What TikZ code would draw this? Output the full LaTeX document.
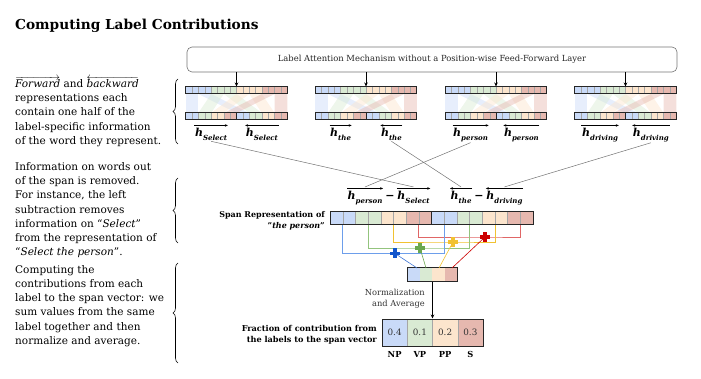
\documentclass[tikz,border=0pt]{standalone}
\usepackage{fontspec}
\setmainfont{DejaVu Serif}
\usetikzlibrary{arrows.meta,decorations.pathreplacing,calc}
\definecolor{cB}{HTML}{C9DAF8}
\definecolor{cG}{HTML}{D9EAD3}
\definecolor{cO}{HTML}{FCE5CD}
\definecolor{cR}{HTML}{E6B8AF}
\definecolor{lB}{HTML}{6D9EEB}
\definecolor{lG}{HTML}{93C47D}
\definecolor{lO}{HTML}{F1C232}
\definecolor{lR}{HTML}{E06666}
\definecolor{pB}{HTML}{1155CC}
\definecolor{pG}{HTML}{6AA84F}
\definecolor{pO}{HTML}{F1C232}
\definecolor{pR}{HTML}{CC0000}
\newcommand{\hvec}[1]{{\fontsize{11}{11}\selectfont\bfseries\itshape h}\raisebox{-3.5pt}{\fontsize{7}{7}\selectfont\bfseries\itshape #1}}
\begin{document}
\begin{tikzpicture}[x=1pt,y=-1pt,
  cellline/.style={draw=black!35, line width=0.3pt},
  rowborder/.style={draw=black!85, line width=1pt, inner sep=0, minimum height=7pt, minimum width=101.6pt},
  conn/.style={draw=black!55, line width=0.5pt},
  hlab/.style={inner sep=0.5pt},
  overarrow/.style={line width=0.5pt, -{Stealth[length=3pt,width=2.5pt]}},
  lefttext/.style={anchor=base west, align=left, inner sep=0, font=\fontsize{10.5}{14.3}\selectfont},
  bracesty/.style={decorate, decoration={brace, amplitude=5pt}, line width=0.6pt},
  plusnode/.style={minimum size=10pt, inner sep=0, path picture={
    \fill[#1] ([xshift=-5pt,yshift=-1.75pt]path picture bounding box.center) rectangle ([xshift=5pt,yshift=1.75pt]path picture bounding box.center);
    \fill[#1] ([xshift=-1.75pt,yshift=-5pt]path picture bounding box.center) rectangle ([xshift=1.75pt,yshift=5pt]path picture bounding box.center);}},
  smalltext/.style={font=\fontsize{8.3}{10.8}\selectfont, inner sep=0}
]
\useasboundingbox (0,0) rectangle (701,379);

% title
\node[anchor=base west, inner sep=0, font=\fontsize{13.7}{15}\selectfont\bfseries] (title) at (15,30) {Computing Label Contributions};

% left texts (base anchor = baseline of last line)
\node[lefttext] (t1) at (15,144.5) {$\overrightarrow{\mbox{\itshape Forward}}$ and $\overleftarrow{\mbox{\itshape backward}}$\\representations each\\contain one half of the\\label-specific information\\of the word they represent.};
\node[lefttext] (t2) at (15,256) {Information on words out\\of the span is removed.\\For instance, the left\\subtraction removes\\information on “\textit{Select}”\\from the representation of\\“\textit{Select the person}”.};
\node[lefttext] (t3) at (15,344.5) {Computing the\\contributions from each\\label to the span vector: we\\sum values from the same\\label together and then\\normalize and average.};

% braces
\draw[bracesty] (178,144) -- (178,79);
\draw[bracesty] (178,243) -- (178,178);
\draw[bracesty] (178,363) -- (178,263);

% top box
\node[draw=black!55, line width=0.6pt, rounded corners=5pt, minimum width=490pt, minimum height=25pt, inner sep=0, font=\fontsize{8.4}{10}\selectfont, text=black!85] (box) at (432,59.5) {Label Attention Mechanism without a Position-wise Feed-Forward Layer};

% word blocks
\foreach \i/\cx/\w in {1/236.5/Select,2/366/the,3/496/person,4/625.5/driving}{
  \pgfmathsetmacro{\L}{\cx-50.8}
  \foreach \g/\col in {0/cB,1/cG,2/cO,3/cR}{
    \pgfmathsetmacro{\a}{\L+\g*25.4}
    \pgfmathsetmacro{\b}{\a+25.4}
    \pgfmathsetmacro{\m}{\a+12.7}
    \pgfmathsetmacro{\fa}{\L+\g*12.7}
    \pgfmathsetmacro{\fb}{\fa+12.7}
    \pgfmathsetmacro{\ba}{\fa+50.8}
    \pgfmathsetmacro{\bb}{\ba+12.7}
    \fill[\col] (\a,87) rectangle (\b,94);
    \fill[\col] (\fa,113) rectangle (\fb,120);
    \fill[\col] (\ba,113) rectangle (\bb,120);
    \fill[\col, opacity=0.45] (\a,94) -- (\m,94) -- (\fb,113) -- (\fa,113) -- cycle;
    \fill[\col, opacity=0.45] (\m,94) -- (\b,94) -- (\bb,113) -- (\ba,113) -- cycle;
  }
  \foreach \k in {1,...,15}{
    \draw[cellline] (\L+\k*6.35,87) -- ++(0,7);
    \draw[cellline] (\L+\k*6.35,113) -- ++(0,7);
  }
  \node[rowborder] (top\i) at (\cx,90.5) {};
  \node[rowborder] (bot\i) at (\cx,116.5) {};
  \draw[line width=1pt, black!85] (bot\i.north) -- (bot\i.south);
  \draw[line width=0.6pt, -{Stealth[length=4pt,width=3.5pt]}] (top\i.north |- box.south) -- (top\i.north);
  \node[hlab, anchor=base] (f\i) at (\cx-25.4,137) {\hvec{\w}};
  \node[hlab, anchor=base] (b\i) at (\cx+25.4,137) {\hvec{\w}};
  \draw[overarrow] ([yshift=2.5pt]f\i.north west) -- ([yshift=2.5pt]f\i.north east);
  \draw[overarrow] ([yshift=2.5pt]b\i.north east) -- ([yshift=2.5pt]b\i.north west);
}

% subtraction terms
\node[hlab, anchor=base west] (sP) at (347,200) {\hvec{person}};
\node[anchor=base west, inner sep=0, font=\fontsize{11}{11}\selectfont\bfseries] (m1) at ([xshift=2pt]sP.base east) {−};
\node[hlab, anchor=base west] (sS) at ([xshift=2pt]m1.base east) {\hvec{Select}};
\node[hlab, anchor=base west] (sT) at (450,200) {\hvec{the}};
\node[anchor=base west, inner sep=0, font=\fontsize{11}{11}\selectfont\bfseries] (m2) at ([xshift=2pt]sT.base east) {−};
\node[hlab, anchor=base west] (sD) at ([xshift=2pt]m2.base east) {\hvec{driving}};
\draw[overarrow] ([yshift=2.5pt]sP.north west) -- ([yshift=2.5pt]sP.north east);
\draw[overarrow] ([yshift=2.5pt]sS.north west) -- ([yshift=2.5pt]sS.north east);
\draw[overarrow] ([yshift=2.5pt]sT.north east) -- ([yshift=2.5pt]sT.north west);
\draw[overarrow] ([yshift=2.5pt]sD.north east) -- ([yshift=2.5pt]sD.north west);

% connectors from word labels
\draw[conn] (f1.south) -- ([yshift=4pt]sS.north);
\draw[conn] (f3.south) -- ([yshift=4pt]sP.north);
\draw[conn] (b2.south) -- ([yshift=4pt]sT.north);
\draw[conn] (b4.south) -- ([yshift=4pt]sD.north);

% span representation
\foreach \h in {0,1}{
  \foreach \g/\col in {0/cB,1/cG,2/cO,3/cR}{
    \fill[\col] (330+\h*101.5+\g*25.375,212) rectangle ++(25.375,13);
  }
}
\foreach \k in {1,...,15}{
  \draw[cellline] (330+\k*12.6875,212) -- ++(0,13);
}
\node[draw=black!85, line width=1pt, minimum width=203pt, minimum height=13pt, inner sep=0] (span) at (431.5,218.5) {};
\draw[line width=1pt, black!85] (span.north) -- (span.south);
\node[anchor=east, align=right, inner sep=0, font=\fontsize{8}{11.5}\selectfont\bfseries] (spanlab) at (325,221) {Span Representation of\\"\textit{the person}"};

% coordinates on span
\coordinate (sB1) at (342.7,225); \coordinate (sB2) at (444.2,225);
\coordinate (sG1) at (368.1,225); \coordinate (sG2) at (469.6,225);
\coordinate (sO1) at (393.4,225); \coordinate (sO2) at (494.9,225);
\coordinate (sR1) at (418.8,225); \coordinate (sR2) at (520.3,225);

% plus positions
\coordinate (plR) at (485,237);
\coordinate (plO) at (453,242);
\coordinate (plG) at (420,248);
\coordinate (plB) at (395,253.5);

% aggregate box
\foreach \g/\col in {0/cB,1/cG,2/cO,3/cR}{
  \fill[\col] (407.3+\g*12.5,268) rectangle ++(12.5,13);
}
\node[draw=black!85, line width=1pt, minimum width=50pt, minimum height=13pt, inner sep=0] (agg) at (432.3,274.5) {};
\coordinate (aB) at (417,268); \coordinate (aG) at (426,268);
\coordinate (aO) at (439,268); \coordinate (aR) at (452,268);

\begin{scope}[line width=0.8pt]
\draw[lR] (sR1) |- (plR) -| (sR2);
\draw[lO] (sO1) |- (plO) -| (sO2);
\draw[lG] (sG1) |- (plG) -| (sG2);
\draw[lB] (sB1) |- (plB) -| (sB2);
\end{scope}
\begin{scope}[line width=0.6pt]
\draw[pB!80] (plB) -- (aB);
\draw[pG] (plG) -- (aG);
\draw[pO] (plO) -- (aO);
\draw[pR] (plR) -- (aR);
\end{scope}
\node[plusnode=pR] (plusR) at (plR) {};
\node[plusnode=pO] (plusO) at (plO) {};
\node[plusnode=pG] (plusG) at (plG) {};
\node[plusnode=pB] (plusB) at (plB) {};

% final box
\foreach \g/\col in {0/cB,1/cG,2/cO,3/cR}{
  \fill[\col] (382+\g*25.25,319) rectangle ++(25.25,27);
}
\foreach \k in {1,2,3}{
  \draw[cellline] (382+\k*25.25,319) -- ++(0,27);
}
\node[draw=black!85, line width=1pt, minimum width=101pt, minimum height=27pt, inner sep=0] (fin) at (432.5,332.5) {};
\foreach \k/\v/\n in {0/0.4/NP,1/0.1/VP,2/0.2/PP,3/0.3/S}{
  \node[smalltext, font=\fontsize{8.8}{10}\selectfont, text=black!80] (v\k) at (394.6+\k*25.25,332.5) {\v};
  \node[smalltext, font=\fontsize{8.3}{10}\selectfont\bfseries] (n\k) at (394.6+\k*25.25,354) {\n};
}
\draw[line width=0.6pt, -{Stealth[length=4pt,width=3.5pt]}] (agg.south -| fin.north) -- (fin.north);
\node[smalltext, anchor=east, align=right, text=black!80] (norm) at (425,298.5) {Normalization\\and Average};
\node[anchor=east, align=right, inner sep=0, font=\fontsize{8.15}{11}\selectfont\bfseries] (frac) at (377,334.5) {Fraction of contribution from\\the labels to the span vector};
\end{tikzpicture}
\end{document}
